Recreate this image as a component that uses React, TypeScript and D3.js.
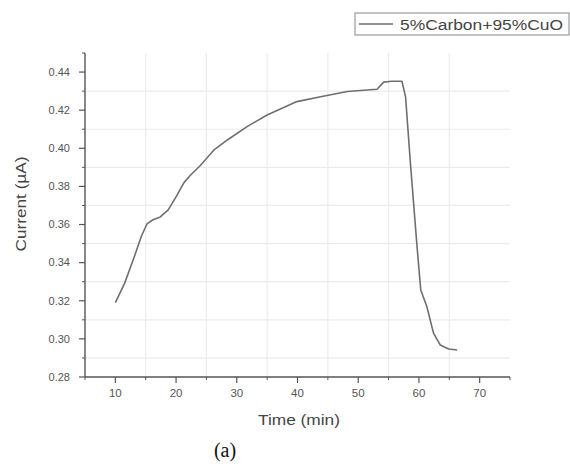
import React from "react";
import * as d3 from "d3";

const timeMin = [10, 11.5, 13, 14.3, 15.2, 16.2, 17.4, 18.7, 20, 21.3, 22.4, 24, 26.2, 28.5, 31.7, 35, 39.9, 43.8, 48.2, 53.1, 54.2, 55.5, 57.2, 57.8, 58.6, 59.7, 60.3, 61.3, 62.4, 63.5, 64.9, 66.3];
const currentUA = [0.319, 0.329, 0.342, 0.354, 0.3603, 0.3625, 0.364, 0.3677, 0.3745, 0.382, 0.386, 0.391, 0.399, 0.4045, 0.4114, 0.4175, 0.4245, 0.427, 0.4298, 0.431, 0.4347, 0.4352, 0.4352, 0.427, 0.392, 0.348, 0.3257, 0.317, 0.303, 0.2968, 0.2947, 0.2942];

const xMajor = [10, 20, 30, 40, 50, 60, 70];
const xMinor = [5, 15, 25, 35, 45, 55, 65, 75];
const xGrid = [15, 25, 35, 45, 55, 65];
const yMajor = [0.28, 0.30, 0.32, 0.34, 0.36, 0.38, 0.40, 0.42, 0.44];
const yMinor = [0.29, 0.31, 0.33, 0.35, 0.37, 0.39, 0.41, 0.43, 0.45];
const yGrid = [0.29, 0.31, 0.33, 0.35, 0.37, 0.39, 0.41, 0.43];
const legendLabel = "5%Carbon+95%CuO";
const xTitle = "Time (min)";
const yTitle = "Current (µA)";
const caption = "(a)";

export default function App() {
  const x = d3.scaleLinear().domain([5, 75]).range([85, 510]);
  const y = d3.scaleLinear().domain([0.28, 0.45]).range([377, 53]);
  const line = d3
    .line<number>()
    .x((_, i) => x(timeMin[i]))
    .y((d) => y(d));
  const font = "'Liberation Sans', Arial, sans-serif";
  const axisColor = "#555";
  const x0 = x.range()[0];
  const x1 = x.range()[1];
  const y0 = y.range()[0];
  const y1 = y.range()[1];
  return (
    <svg
      width={570}
      height={470}
      style={{ position: "absolute", left: 0, top: 0, background: "#fff" }}
      fontFamily={font}
    >
      {/* grid */}
      {xGrid.map((v) => (
        <line key={"gx" + v} x1={x(v)} x2={x(v)} y1={y0} y2={y1} stroke="#ebebeb" strokeWidth={1.2} />
      ))}
      {yGrid.map((v) => (
        <line key={"gy" + v} x1={x0} x2={x1} y1={y(v)} y2={y(v)} stroke="#ebebeb" strokeWidth={1.2} />
      ))}
      {/* data line */}
      <path d={line(currentUA) || ""} fill="none" stroke="#6f6f6f" strokeWidth={1.6} strokeLinejoin="round" />
      {/* axes */}
      <line x1={x0} x2={x0} y1={y0} y2={y1} stroke={axisColor} strokeWidth={1.4} />
      <line x1={x0} x2={x1} y1={y0} y2={y0} stroke={axisColor} strokeWidth={1.4} />
      {yMajor.map((v) => (
        <g key={"ym" + v}>
          <line x1={x0 - 6} x2={x0} y1={y(v)} y2={y(v)} stroke={axisColor} strokeWidth={1.2} />
          <text x={x0 - 15} y={y(v)} dy="0.35em" textAnchor="end" fontSize={11} fill="#555">
            {v.toFixed(2)}
          </text>
        </g>
      ))}
      {yMinor.map((v) => (
        <line key={"yn" + v} x1={x0 - 3} x2={x0} y1={y(v)} y2={y(v)} stroke={axisColor} strokeWidth={1} />
      ))}
      {xMajor.map((v) => (
        <g key={"xm" + v}>
          <line x1={x(v)} x2={x(v)} y1={y0} y2={y0 + 6} stroke={axisColor} strokeWidth={1.2} />
          <text x={x(v)} y={y0 + 20} textAnchor="middle" fontSize={11.5} fill="#555">
            {v}
          </text>
        </g>
      ))}
      {xMinor.map((v) => (
        <line key={"xn" + v} x1={x(v)} x2={x(v)} y1={y0} y2={y0 + 3} stroke={axisColor} strokeWidth={1} />
      ))}
      {/* titles */}
      <text x={299} y={425} textAnchor="middle" fontSize={14.5} fill="#444" textLength={82} lengthAdjust="spacingAndGlyphs">
        {xTitle}
      </text>
      <text
        transform="translate(26,204) rotate(-90)"
        textAnchor="middle"
        fontSize={14}
        fill="#444"
        textLength={95}
        lengthAdjust="spacingAndGlyphs"
      >
        {yTitle}
      </text>
      <text x={225} y={457} textAnchor="middle" fontSize={20} fontFamily="'Liberation Serif', 'Times New Roman', serif" fill="#111">
        {caption}
      </text>
      {/* legend */}
      <rect x={355} y={13} width={214} height={22} fill="#fff" stroke="#9a9a9a" strokeWidth={1.2} />
      <line x1={359} x2={393} y1={24} y2={24} stroke="#6f6f6f" strokeWidth={1.4} />
      <text x={400} y={29.5} fontSize={14} fill="#444" textLength={163} lengthAdjust="spacingAndGlyphs">
        {legendLabel}
      </text>
    </svg>
  );
}
